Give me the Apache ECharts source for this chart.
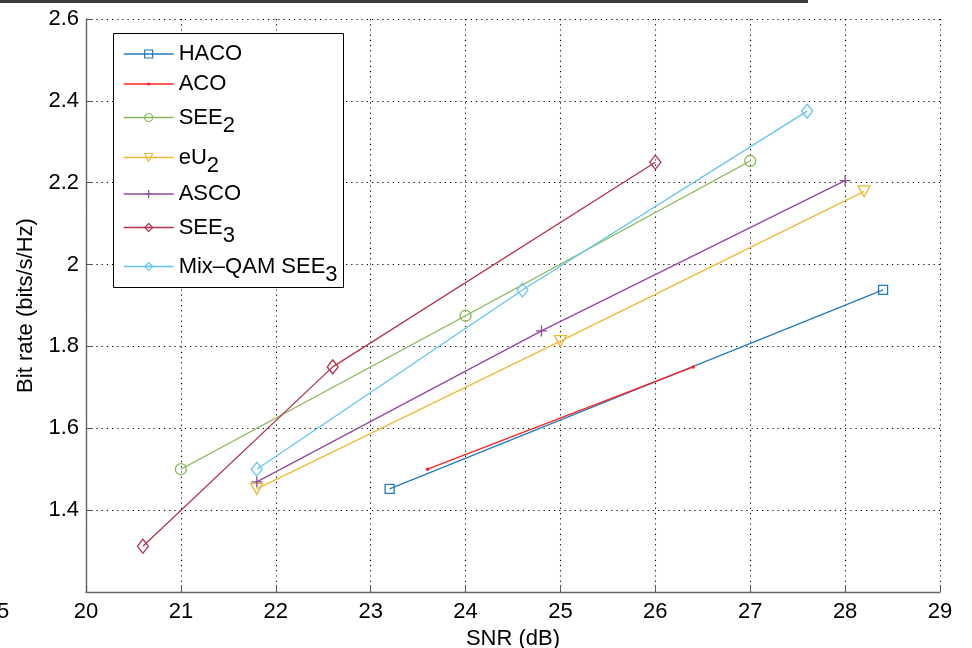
<!DOCTYPE html>
<html><head><meta charset="utf-8">
<script src="https://cdn.jsdelivr.net/npm/echarts@6/dist/echarts.min.js"></script>
<style>html,body{margin:0;padding:0;background:#fff}#c{width:972px;height:648px}</style>
</head><body><div id="c"></div>
<script>
// ---- data ----
const seriesNames = ['HACO', 'ACO', 'SEE2', 'eU2', 'ASCO', 'SEE3', 'Mix–QAM SEE3'];
const snrHACO = [23.2, 28.4];
const rateHACO = [1.452, 1.938];
const snrACO = [23.6, 26.4];
const rateACO = [1.50, 1.75];
const snrSEE2 = [21.0, 24.0, 27.0];
const rateSEE2 = [1.50, 1.875, 2.253];
const snrEU2 = [21.8, 25.0, 28.2];
const rateEU2 = [1.452, 1.813, 2.179];
const snrASCO = [21.8, 24.8, 28.0];
const rateASCO = [1.469, 1.838, 2.205];
const snrSEE3 = [20.6, 22.6, 26.0];
const rateSEE3 = [1.312, 1.75, 2.25];
const snrMix = [21.8, 24.6, 27.6];
const rateMix = [1.50, 1.938, 2.375];
const xTickLabels = ['20', '21', '22', '23', '24', '25', '26', '27', '28', '29'];
const yTickLabels = ['1.2', '1.4', '1.6', '1.8', '2', '2.2', '2.4', '2.6'];
const legendLabels = {
  'HACO': '{n|HACO}', 'ACO': '{n|ACO}', 'SEE2': '{n|SEE}{s|2}', 'eU2': '{n|eU}{s|2}',
  'ASCO': '{n|ASCO}', 'SEE3': '{n|SEE}{s|3}', 'Mix–QAM SEE3': '{n|Mix–QAM SEE}{s|3}'
};

// ---- styling ----
const FONT = '"Liberation Sans", Arial, Helvetica, sans-serif';
const colors = ['#2479c0', '#ff2222', '#86b853', '#efb835', '#8e4a9e', '#b5334e', '#62c5ef'];
const symbols = ['rect', 'circle', 'circle', 'triangle', 'path://M0,5L10,5M5,0L5,10', 'diamond', 'diamond'];
const symSizes = [9, 3.5, 11, [12, 11], 11, [11, 14], [11, 14]];
const rotates = [0, 0, 0, 180, 0, 0, 0];
const xs = [snrHACO, snrACO, snrSEE2, snrEU2, snrASCO, snrSEE3, snrMix];
const ys = [rateHACO, rateACO, rateSEE2, rateEU2, rateASCO, rateSEE3, rateMix];
const legendCenters = [52, 82, 117, 157, 192, 227, 266];
const hasSub = [false, false, true, true, false, true, true];

const series = seriesNames.map((name, i) => ({
  name: name,
  type: 'line',
  data: xs[i].map((x, k) => [x, ys[i][k]]),
  symbol: symbols[i],
  symbolSize: symSizes[i],
  symbolRotate: rotates[i],
  showAllSymbol: true,
  lineStyle: { color: colors[i], width: 1.3 },
  itemStyle: i === 1 ? { color: colors[i], borderWidth: 0 }
                     : { color: 'transparent', borderColor: colors[i], borderWidth: 1.3 },
  emphasis: { disabled: true },
  animation: false,
  z: 3
}));

const richStyle = {
  n: { fontSize: 22, fontFamily: FONT, color: '#000', lineHeight: 26, verticalAlign: 'middle' },
  s: { fontSize: 22, fontFamily: FONT, color: '#000', lineHeight: 21, padding: [16, 0, 0, 0], verticalAlign: 'middle' }
};

const legends = seriesNames.map((name, i) => {
  const ih = i === 1 ? 4 : 10;
  const blockH = hasSub[i] ? 37 : 26;
  const shift = hasSub[i] ? 0 : 4;
  return {
    data: [name],
    orient: 'vertical',
    left: 123,
    top: legendCenters[i] - blockH / 2 + shift,
    padding: 0,
    itemWidth: 50,
    itemHeight: ih,
    itemGap: 0,
    selectedMode: false,
    z: 10,
    formatter: n => legendLabels[n],
    textStyle: { rich: richStyle, fontSize: 22, fontFamily: FONT, color: '#000' },
    itemStyle: i === 1 ? { borderWidth: 0 } : { borderWidth: 1.2 },
    lineStyle: { width: 1.3 }
  };
});

const gridLine = { show: true, lineStyle: { color: '#000', type: [1.2, 4], width: 1.1 } };

const chart = echarts.init(document.getElementById('c'), null, { renderer: 'canvas' });
chart.setOption({
  animation: false,
  backgroundColor: '#fff',
  grid: { left: 86, right: 32, top: 19, bottom: 56, containLabel: false, outerBoundsMode: 'none' },
  xAxis: {
    type: 'value', min: Number(xTickLabels[0]), max: Number(xTickLabels[xTickLabels.length - 1]), interval: 1,
    name: 'SNR (dB)', nameLocation: 'middle', nameGap: 31,
    nameTextStyle: { fontSize: 22, fontFamily: FONT, color: '#000' },
    axisLine: { onZero: false, lineStyle: { color: '#666', width: 1.4 } },
    axisTick: { inside: true, length: 7, lineStyle: { color: '#555', width: 1 } },
    axisLabel: { color: '#000', fontSize: 22, fontFamily: FONT, margin: 9 },
    splitLine: gridLine
  },
  yAxis: {
    type: 'value', min: Number(yTickLabels[0]), max: Number(yTickLabels[yTickLabels.length - 1]), interval: 0.2,
    name: 'Bit rate (bits/s/Hz)', nameLocation: 'middle', nameGap: 49, nameRotate: 90,
    nameTextStyle: { fontSize: 22, fontFamily: FONT, color: '#000' },
    axisLine: { show: true, onZero: false, lineStyle: { color: '#666', width: 1.4 } },
    axisTick: { show: true, inside: true, length: 7, lineStyle: { color: '#555', width: 1 } },
    axisLabel: { color: '#000', fontSize: 22, fontFamily: FONT, margin: 7, showMinLabel: false },
    splitLine: gridLine
  },
  legend: legends,
  graphic: [
    { type: 'rect', z: 9, shape: { x: 113.5, y: 33.5, width: 230, height: 254 },
      style: { fill: '#fff', stroke: '#000', lineWidth: 1 } },
    { type: 'rect', z: 9, shape: { x: 0, y: 0, width: 808, height: 3 },
      style: { fill: '#3c3c3c' } },
    { type: 'text', z: 9, x: -3, y: 601,
      style: { text: '5', fontSize: 22, fontFamily: FONT, fill: '#000' } }
  ],
  series: series
});
</script>
</body></html>
